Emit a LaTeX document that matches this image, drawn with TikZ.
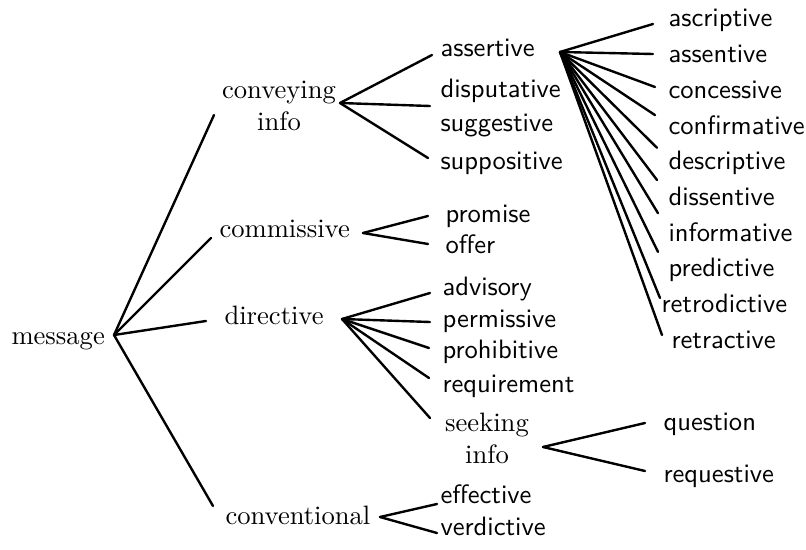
\documentclass[tikz,border=0pt]{standalone}
\begin{document}
\begin{tikzpicture}[x=0.376pt,y=-0.376pt]
\tikzset{
  inner/.style={font=\rmfamily, inner sep=0pt, anchor=base west},
  leaf/.style={font=\sffamily, inner sep=0pt, anchor=base west},
  multi/.style={font=\rmfamily, inner sep=0pt, align=center, anchor=center},
  conn/.style={line width=0.9pt, line cap=round}
}
\useasboundingbox (0,0) rectangle (806,550);
% internal nodes
\node[inner] (message) at (11,345) {message};
\node[multi] (conveying) at (279,106) {conveying\\info};
\node[inner] (commissive) at (219,238) {commissive};
\node[inner] (directive) at (224,324) {directive};
\node[inner] (conventional) at (225,524) {conventional};
\node[multi] (seeking) at (487,438) {seeking\\info};
% conveying leaves
\node[leaf] (assertive) at (440,57) {assertive};
\node[leaf] (disputative) at (440,98) {disputative};
\node[leaf] (suggestive) at (440,132) {suggestive};
\node[leaf] (suppositive) at (440,170) {suppositive};
% commissive leaves
\node[leaf] (promise) at (445,222) {promise};
\node[leaf] (offer) at (445,253) {offer};
% directive leaves
\node[leaf] (advisory) at (442,295) {advisory};
\node[leaf] (permissive) at (442,327) {permissive};
\node[leaf] (prohibitive) at (442,358) {prohibitive};
\node[leaf] (requirement) at (442,392) {requirement};
% seeking info leaves
\node[leaf] (question) at (663,430) {question};
\node[leaf] (requestive) at (663,482) {requestive};
% conventional leaves
\node[leaf] (effective) at (440,503) {effective};
\node[leaf] (verdictive) at (440,535) {verdictive};
% assertive leaves
\node[leaf] (ascriptive) at (668,27) {ascriptive};
\node[leaf] (assentive) at (668,62.7) {assentive};
\node[leaf] (concessive) at (668,98.4) {concessive};
\node[leaf] (confirmative) at (668,134.1) {confirmative};
\node[leaf] (descriptive) at (668,169.8) {descriptive};
\node[leaf] (dissentive) at (668,205.5) {dissentive};
\node[leaf] (informative) at (668,241.2) {informative};
\node[leaf] (predictive) at (668,276.9) {predictive};
\node[leaf] (retrodictive) at (661,312.6) {retrodictive};
\node[leaf] (retractive) at (671,348.3) {retractive};
% connectors from message
\draw[conn] ([shift={(103,-10)}]message.base west) -- ([shift={(-65,9)}]conveying.center);
\draw[conn] ([shift={(103,-10)}]message.base west) -- ([shift={(-8,0)}]commissive.base west);
\draw[conn] ([shift={(103,-10)}]message.base west) -- ([shift={(-18,-3)}]directive.base west);
\draw[conn] ([shift={(103,-10)}]message.base west) -- ([shift={(-12,-18)}]conventional.base west);
% conveying info
\draw[conn] ([shift={(61,-3)}]conveying.center) -- ([shift={(-8,-2)}]assertive.base west);
\draw[conn] ([shift={(61,-3)}]conveying.center) -- ([shift={(-10,8)}]disputative.base west);
\draw[conn] ([shift={(61,-3)}]conveying.center) -- ([shift={(-12,-12)}]suppositive.base west);
% commissive
\draw[conn] ([shift={(144,-5)}]commissive.base west) -- ([shift={(-17,-6)}]promise.base west);
\draw[conn] ([shift={(144,-5)}]commissive.base west) -- ([shift={(-17,-9)}]offer.base west);
% directive
\draw[conn] ([shift={(118,-5)}]directive.base west) -- ([shift={(-12,-2)}]advisory.base west);
\draw[conn] ([shift={(118,-5)}]directive.base west) -- ([shift={(-12,-5)}]permissive.base west);
\draw[conn] ([shift={(118,-5)}]directive.base west) -- ([shift={(-13,-10)}]prohibitive.base west);
\draw[conn] ([shift={(118,-5)}]directive.base west) -- ([shift={(-13,-14)}]requirement.base west);
\draw[conn] ([shift={(118,-5)}]directive.base west) -- ([shift={(-57,-20)}]seeking.center);
% seeking info
\draw[conn] ([shift={(56,9)}]seeking.center) -- ([shift={(-18,-7)}]question.base west);
\draw[conn] ([shift={(56,9)}]seeking.center) -- ([shift={(-18,-11)}]requestive.base west);
% conventional
\draw[conn] ([shift={(155,-7)}]conventional.base west) -- ([shift={(-3,1)}]effective.base west);
\draw[conn] ([shift={(155,-7)}]conventional.base west) -- ([shift={(-3,-2)}]verdictive.base west);
% assertive
\draw[conn] ([shift={(120,-5)}]assertive.base west) -- ([shift={(-15,-3)}]ascriptive.base west);
\draw[conn] ([shift={(120,-5)}]assertive.base west) -- ([shift={(-15,-8.7)}]assentive.base west);
\draw[conn] ([shift={(120,-5)}]assertive.base west) -- ([shift={(-13,-11.4)}]concessive.base west);
\draw[conn] ([shift={(120,-5)}]assertive.base west) -- ([shift={(-13,-19)}]confirmative.base west);
\draw[conn] ([shift={(120,-5)}]assertive.base west) -- ([shift={(-11,-22)}]descriptive.base west);
\draw[conn] ([shift={(120,-5)}]assertive.base west) -- ([shift={(-11,-25.5)}]dissentive.base west);
\draw[conn] ([shift={(120,-5)}]assertive.base west) -- ([shift={(-10,-28)}]informative.base west);
\draw[conn] ([shift={(120,-5)}]assertive.base west) -- ([shift={(-10,-25)}]predictive.base west);
\draw[conn] ([shift={(120,-5)}]assertive.base west) -- ([shift={(-1,-14.6)}]retrodictive.base west);
\draw[conn] ([shift={(120,-5)}]assertive.base west) -- ([shift={(-9,-13.3)}]retractive.base west);
\end{tikzpicture}
\end{document}
